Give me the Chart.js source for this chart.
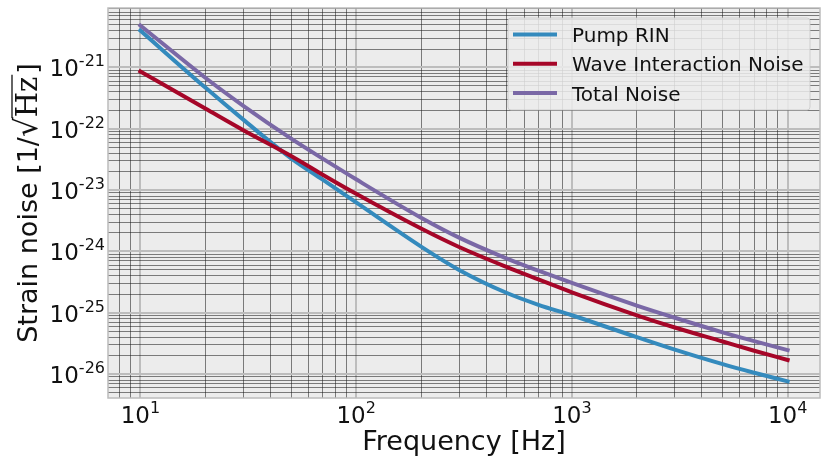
<!DOCTYPE html>
<html>
<head>
<meta charset="utf-8">
<script src="https://cdn.jsdelivr.net/npm/chart.js@4.4.1/dist/chart.umd.min.js"></script>
<style>
  html, body { margin: 0; padding: 0; background: #fff; }
  #wrap { width: 821px; height: 459px; }
</style>
</head>
<body>
<div id="wrap"><canvas id="chart" width="821" height="459"></canvas></div>
<script>
// frequencies [Hz] and strain noise [1/sqrt(Hz)]
const freq = [10, 20, 30, 50, 70, 100, 200, 300, 500, 700, 1000, 2000, 3000, 5000, 7000, 10000];
const pumpRin = [4.0e-21, 4.7e-22, 1.41e-22, 3.3e-23, 1.48e-23, 6.3e-24, 1.2e-24, 5.0e-25, 2.1e-25, 1.35e-25, 9.1e-26, 4.0e-26, 2.5e-26, 1.45e-26, 1.05e-26, 7.6e-27];
const waveNoise = [8.6e-22, 2.14e-22, 9.5e-23, 3.6e-23, 1.78e-23, 8.7e-24, 2.36e-24, 1.18e-24, 5.55e-25, 3.5e-25, 2.16e-25, 9.1e-26, 5.75e-26, 3.4e-26, 2.4e-26, 1.7e-26];
const totalNoise = [4.84e-21, 6.8e-22, 2.37e-22, 6.9e-23, 3.26e-23, 1.5e-23, 3.55e-24, 1.68e-24, 7.65e-25, 4.85e-25, 3.07e-25, 1.31e-25, 8.3e-26, 4.8e-26, 3.45e-26, 2.46e-26];

const seriesNames = ["Pump RIN", "Wave Interaction Noise", "Total Noise"];
const seriesColors = ["#348ABD", "#A60628", "#7A68A6"];

const xTickExps = [1, 2, 3, 4];
const yTickExps = [-26, -25, -24, -23, -22, -21];
const xTitle = "Frequency [Hz]";

const xMin = Math.pow(10, 0.85), xMax = Math.pow(10, 4.15);
const yMin = Math.pow(10, -26.39), yMax = Math.pow(10, -20.03);

const FONT = '"DejaVu Sans", sans-serif';

function logGrid(min, max) {
    const out = [];
    for (let e = Math.floor(Math.log10(min)); e <= Math.ceil(Math.log10(max)); e++) {
        for (let m = 1; m < 10; m++) {
            const v = m * Math.pow(10, e);
            if (v >= min && v <= max) out.push({ value: v });
        }
    }
    return out;
}

function isDecade(v) {
    const l = Math.log10(v);
    return Math.abs(l - Math.round(l)) < 1e-6;
}

const gridOpts = {
    drawTicks: false,
    color: c => (c.tick && isDecade(c.tick.value)) ? "#bdbdbd" : "rgba(30,30,30,0.55)",
    lineWidth: c => (c.tick && isDecade(c.tick.value)) ? 2 : 1
};

function drawPow(ctx, exp, x, y, align) {
    const base = "10", sup = String(exp);
    ctx.font = "23px " + FONT;
    const wb = ctx.measureText(base).width;
    ctx.font = "16px " + FONT;
    const ws = ctx.measureText(sup).width;
    const x0 = align === "center" ? x - (wb + ws) / 2 : x - wb - ws;
    ctx.textAlign = "left";
    ctx.textBaseline = "alphabetic";
    ctx.font = "23px " + FONT;
    ctx.fillText(base, x0, y);
    ctx.font = "16px " + FONT;
    ctx.fillText(sup, x0 + wb, y - 10);
}

const plotBg = {
    id: "plotBg",
    beforeDraw(chart) {
        const { ctx, chartArea: a } = chart;
        ctx.save();
        ctx.fillStyle = "#ffffff";
        ctx.fillRect(0, 0, chart.width, chart.height);
        ctx.fillStyle = "#ececec";
        ctx.fillRect(a.left, a.top, a.right - a.left, a.bottom - a.top);
        ctx.restore();
    }
};

const decorations = {
    id: "decorations",
    afterDraw(chart) {
        const { ctx, chartArea: a } = chart;
        const sx = chart.scales.x, sy = chart.scales.y;
        ctx.save();

        // frame
        ctx.strokeStyle = "#bcbcbc";
        ctx.lineWidth = 1.5;
        ctx.strokeRect(a.left, a.top, a.right - a.left, a.bottom - a.top);

        // tick labels
        ctx.fillStyle = "#111";
        xTickExps.forEach(e => drawPow(ctx, e, sx.getPixelForValue(Math.pow(10, e)), a.bottom + 25, "center"));
        yTickExps.forEach(e => drawPow(ctx, e, a.left - 3, sy.getPixelForValue(Math.pow(10, e)) + 9, "right"));

        // x title
        ctx.font = "27px " + FONT;
        ctx.textAlign = "center";
        ctx.fillText(xTitle, (a.left + a.right) / 2, a.bottom + 52);

        // y title: Strain noise [1/sqrt(Hz)]
        ctx.save();
        ctx.translate(37, (a.top + a.bottom) / 2);
        ctx.rotate(-Math.PI / 2);
        ctx.textAlign = "left";
        const sans = "27px " + FONT, serif = '29px "DejaVu Serif", serif', rad = '31px "DejaVu Sans"';
        const p1 = "Strain noise [1/", p2 = "\u221A", p3 = "Hz", p4 = "]";
        ctx.font = sans; const w1 = ctx.measureText(p1).width; const w4 = ctx.measureText(p4).width;
        ctx.font = rad; const m2 = ctx.measureText(p2); const w2 = m2.width;
        ctx.font = serif; const w3 = ctx.measureText(p3).width;
        let x = -(w1 + w2 + w3 + w4 + 3) / 2;
        ctx.font = sans; ctx.fillText(p1, x, 0); x += w1;
        ctx.font = rad; ctx.fillText(p2, x, 0);
        const topY = -m2.actualBoundingBoxAscent + 1;
        const radEnd = x + m2.actualBoundingBoxRight;
        x += w2;
        ctx.font = serif; ctx.fillText(p3, x, 0); x += w3 + 3;
        ctx.strokeStyle = "#111";
        ctx.lineWidth = 1.3;
        ctx.beginPath();
        ctx.moveTo(radEnd - 1, topY);
        ctx.lineTo(x - 1, topY);
        ctx.stroke();
        ctx.font = sans; ctx.fillText(p4, x, 0);
        ctx.restore();

        // legend
        const lx = a.right - 312, ly = a.top + 10, lw = 302, lh = 92;
        ctx.fillStyle = "rgba(236,236,236,0.85)";
        ctx.strokeStyle = "rgba(200,200,200,0.8)";
        ctx.lineWidth = 1;
        ctx.beginPath();
        ctx.roundRect(lx, ly, lw, lh, 3);
        ctx.fill();
        ctx.stroke();
        chart.data.datasets.forEach((ds, i) => {
            const by = ly + 24 + i * 29.3;
            ctx.strokeStyle = ds.borderColor;
            ctx.lineWidth = 4;
            ctx.beginPath();
            ctx.moveTo(lx + 5, by - 7.5);
            ctx.lineTo(lx + 49, by - 7.5);
            ctx.stroke();
            ctx.fillStyle = "#111";
            ctx.font = "20px " + FONT;
            ctx.textAlign = "left";
            ctx.fillText(ds.label, lx + 64, by);
        });

        ctx.restore();
    }
};

const series = [pumpRin, waveNoise, totalNoise];

new Chart(document.getElementById("chart"), {
    type: "line",
    data: {
        datasets: series.map((vals, i) => ({
            label: seriesNames[i],
            data: freq.map((f, j) => ({ x: f, y: vals[j] })),
            borderColor: seriesColors[i],
            borderWidth: 4,
            borderCapStyle: "square",
            pointRadius: 0,
            cubicInterpolationMode: "monotone",
            fill: false,
            order: 3 - i
        }))
    },
    options: {
        responsive: false,
        animation: false,
        devicePixelRatio: 1,
        layout: { padding: { top: 8, right: 1, left: 0, bottom: 0 } },
        plugins: { legend: { display: false }, tooltip: { enabled: false } },
        scales: {
            x: {
                type: "logarithmic",
                min: xMin, max: xMax,
                afterBuildTicks: s => { s.ticks = logGrid(xMin, xMax); },
                afterFit: s => { s.height = 61; },
                ticks: { display: false },
                grid: gridOpts,
                border: { display: false }
            },
            y: {
                type: "logarithmic",
                min: yMin, max: yMax,
                afterBuildTicks: s => { s.ticks = logGrid(yMin, yMax); },
                afterFit: s => { s.width = 108; },
                ticks: { display: false },
                grid: gridOpts,
                border: { display: false }
            }
        }
    },
    plugins: [plotBg, decorations]
});
</script>
</body>
</html>
